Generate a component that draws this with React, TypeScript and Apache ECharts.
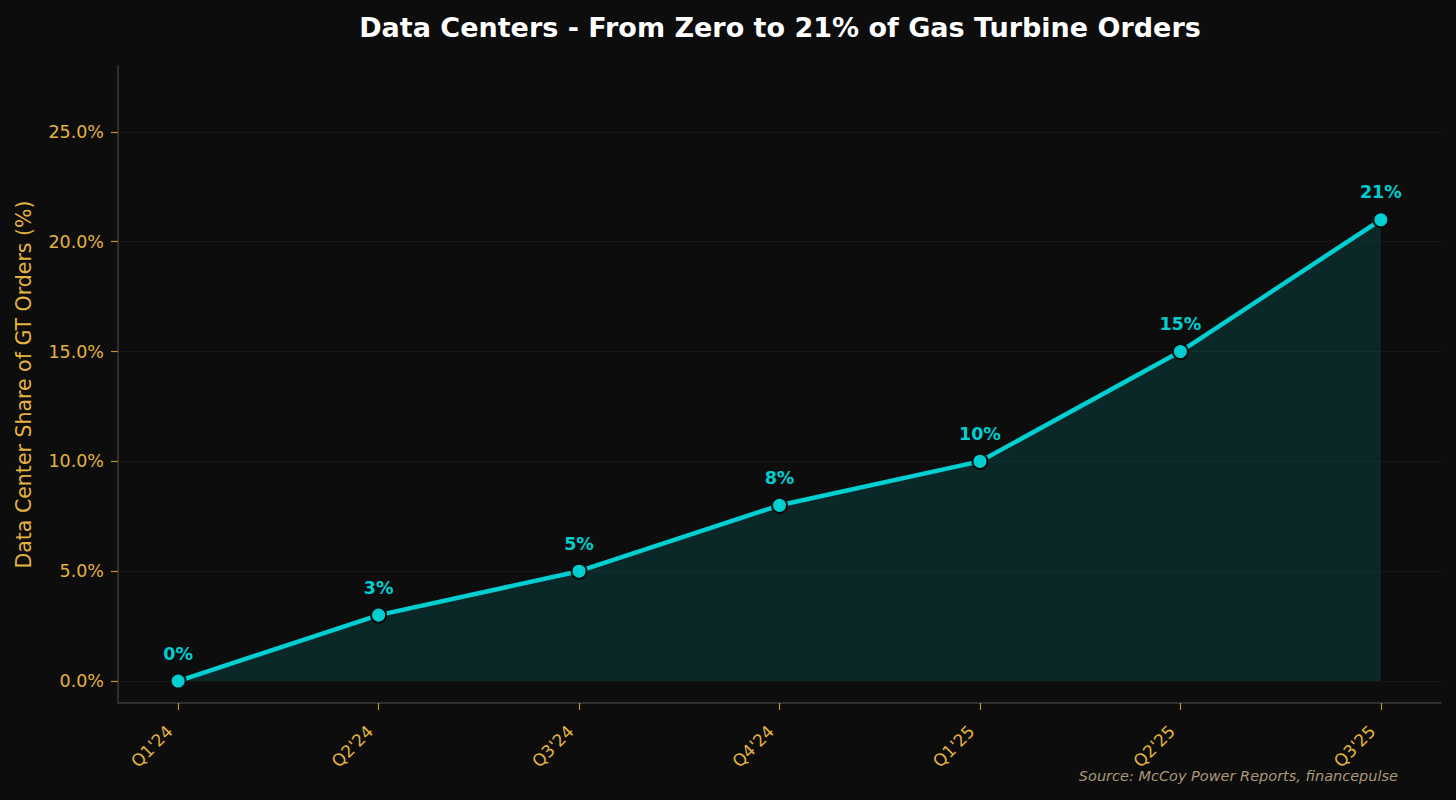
import React, { useEffect, useRef } from "react";
import * as echarts from "echarts";

const categories = ["Q1'24", "Q2'24", "Q3'24", "Q4'24", "Q1'25", "Q2'25", "Q3'25"];
const shareValues = [0, 3, 5, 8, 10, 15, 21];
const yTicks = [0, 5, 10, 15, 20, 25];

const FONT = "DejaVu Sans";
const GOLD = "#e3b341";
const CYAN = "#00ced1";
const BG = "#0d0d0d";

export default function App() {
  const ref = useRef<HTMLDivElement>(null);
  useEffect(() => {
    document.body.style.margin = "0";
    document.body.style.background = BG;
    if (!ref.current) return;
    const chart = echarts.init(ref.current, undefined, { renderer: "svg" });
    const xIdx = categories.map((_, i) => i);
    chart.setOption({
      animation: false,
      backgroundColor: BG,
      textStyle: { fontFamily: FONT },
      title: {
        text: "Data Centers - From Zero to 21% of Gas Turbine Orders",
        left: 775,
        top: 9,
        textAlign: "center",
        textStyle: { color: "#ffffff", fontSize: 27, fontWeight: "bold", fontFamily: FONT },
      },
      grid: {
        left: 118,
        right: 15,
        top: 66,
        bottom: 97,
        containLabel: false,
        outerBoundsMode: "none",
      },
      xAxis: {
        type: "value",
        min: -0.3,
        max: 6.3,
        axisLine: { show: true, onZero: false, lineStyle: { color: "#3a3a3a", width: 1.5 } },
        axisTick: {
          show: true,
          customValues: xIdx,
          length: 7,
          lineStyle: { color: "#b8962e", width: 1.2 },
        },
        axisLabel: {
          customValues: xIdx,
          rotate: 45,
          margin: 17,
          padding: [0, 12, 0, 0],
          color: GOLD,
          fontSize: 17,
          fontFamily: FONT,
          formatter: (v: number) => categories[Math.round(v)] ?? "",
        },
        splitLine: { show: false },
      },
      yAxis: {
        type: "value",
        min: -1,
        max: 28,
        name: "Data Center Share of GT Orders (%)",
        nameLocation: "middle",
        nameGap: 84,
        nameTextStyle: { color: GOLD, fontSize: 20.5, fontFamily: FONT },
        axisLine: { show: true, onZero: false, lineStyle: { color: "#3a3a3a", width: 1.5 } },
        axisTick: {
          show: true,
          customValues: yTicks,
          length: 7,
          lineStyle: { color: "#b8962e", width: 1.2 },
        },
        axisLabel: {
          customValues: yTicks,
          margin: 14,
          color: GOLD,
          fontSize: 17.5,
          fontFamily: FONT,
          formatter: (v: number) => v.toFixed(1) + "%",
        },
        splitLine: { show: false },
      },
      graphic: [
        {
          type: "text",
          right: 58,
          top: 768,
          style: {
            text: "Source: McCoy Power Reports, financepulse",
            fill: "#a8987a",
            font: `italic 14.5px "${FONT}"`,
          },
        },
      ],
      series: [
        {
          type: "line",
          data: shareValues.map((v, i) => [i, v]),
          lineStyle: { color: CYAN, width: 4.5 },
          itemStyle: { color: CYAN, borderColor: "#0a0a0a", borderWidth: 2 },
          symbol: "circle",
          symbolSize: 15,
          areaStyle: { color: "rgba(0,206,209,0.14)", opacity: 1, origin: 0 },
          label: {
            show: true,
            position: "top",
            distance: 10,
            color: CYAN,
            fontWeight: "bold",
            fontSize: 17.5,
            fontFamily: FONT,
            formatter: (p: any) => p.value[1] + "%",
          },
          markLine: {
            silent: true,
            symbol: "none",
            label: { show: false },
            lineStyle: { color: "#161616", width: 1, type: "solid" },
            data: yTicks.map((t) => ({ yAxis: t })),
            z: 1,
          },
          z: 3,
        },
      ],
    });
    return () => chart.dispose();
  }, []);
  return <div ref={ref} style={{ width: 1456, height: 800 }} />;
}
